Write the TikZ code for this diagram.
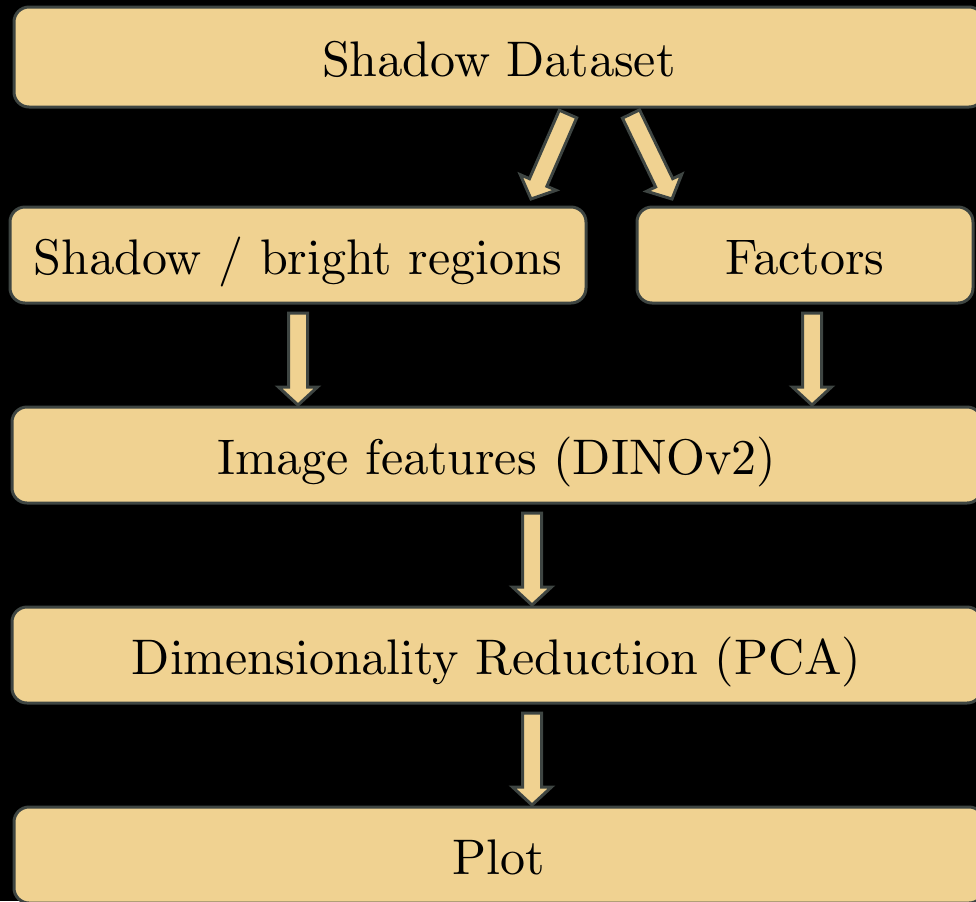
\documentclass[tikz,border=0pt]{standalone}
\usepackage{tikz}
\usetikzlibrary{calc, positioning}

\definecolor{boxfill}{RGB}{240,210,145}
\definecolor{boxline}{RGB}{62,69,66}
\font\stagerm=cmr10 at 25pt

\tikzset{
    stage/.style={rectangle, draw=boxline, fill=boxfill, line width=1.5pt,
        rounded corners=7.5pt, minimum height=48pt, inner sep=0pt,
        text height=26pt, text depth=6.5pt, font=\stagerm},
    flowarrow/.style={draw=boxline, fill=boxfill, line width=1.5pt, line join=miter}
}

% block arrow from #1 to #2
\newcommand{\blockarrow}[2]{%
    \coordinate (head) at ($(#2)!9pt!(#1)$);
    \draw[flowarrow] ($(#1)!4.75pt!90:(#2)$) -- ($(head)!4.75pt!90:(#2)$)
        -- ($(head)!9.75pt!90:(#2)$) -- (#2) -- ($(head)!9.75pt!-90:(#2)$)
        -- ($(head)!4.75pt!-90:(#2)$) -- ($(#1)!4.75pt!-90:(#2)$) -- cycle;
}

\begin{document}
\begin{tikzpicture}[x=0.5pt, y=-0.5pt]
    \fill[black] (0,0) rectangle (976,901);
    \useasboundingbox (0,0) rectangle (976,901);

    % Stages
    \node[stage, minimum width=485pt, minimum height=50pt] (dataset) at (499,57) {Shadow Dataset};
    \node[stage, minimum width=288pt] (regions) at (298,255) {Shadow / bright regions};
    \node[stage, minimum width=168pt] (factors) at (805,255) {Factors};
    \node[stage, minimum width=485pt] (features) at (497,455) {Image features (DINOv2)};
    \node[stage, minimum width=485pt] (pca) at (497,655) {Dimensionality Reduction (PCA)};
    \node[stage, minimum width=485pt] (plot) at (499,855) {Plot};

    % Arrow ends
    \coordinate (d1) at (568,114);
    \coordinate (r1) at (531,199);
    \coordinate (d2) at (631,114);
    \coordinate (f1) at (672,199);
    \coordinate (r2) at (298,313);
    \coordinate (i1) at (298,405);
    \coordinate (f2) at (812,313);
    \coordinate (i2) at (812,405);
    \coordinate (i3) at (532,513);
    \coordinate (p1) at (532,605);
    \coordinate (p2) at (532,713);
    \coordinate (o1) at (532,805);

    % Arrows
    \blockarrow{d1}{r1}
    \blockarrow{d2}{f1}
    \blockarrow{r2}{i1}
    \blockarrow{f2}{i2}
    \blockarrow{i3}{p1}
    \blockarrow{p2}{o1}
\end{tikzpicture}
\end{document}
